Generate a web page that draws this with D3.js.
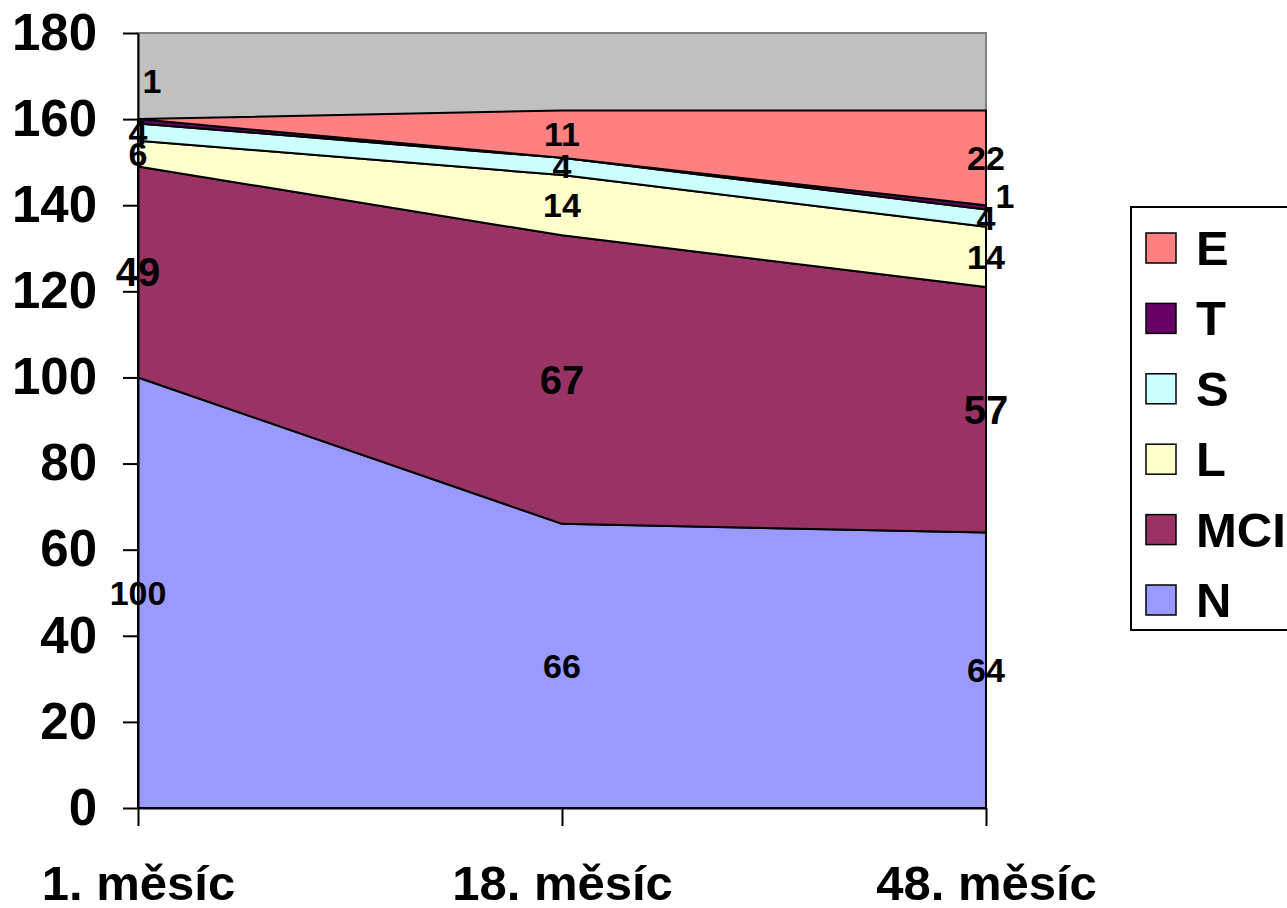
<!DOCTYPE html>
<html>
<head>
<meta charset="utf-8">
<script src="https://cdn.jsdelivr.net/npm/d3@7"></script>
<style>
  body { margin: 0; background: #fff; }
  text { font-family: "Liberation Sans", Arial, sans-serif; font-weight: bold; }
</style>
</head>
<body>
<div id="chart"></div>
<script>
// data
const categories = ["1. měsíc", "18. měsíc", "48. měsíc"];
const seriesKeys = ["N", "MCI", "L", "S", "T", "E"];
const valuesN   = [100, 66, 64];
const valuesMCI = [49, 67, 57];
const valuesL   = [6, 14, 14];
const valuesS   = [4, 4, 4];
const valuesT   = [1, 0, 1];
const valuesE   = [0, 11, 22];
const yTicks = [0, 20, 40, 60, 80, 100, 120, 140, 160, 180];

// styles
const colors = { N: "#9999FF", MCI: "#993366", L: "#FFFFCC", S: "#CCFFFF", T: "#660066", E: "#FF8080" };
const labelSize = { N: 34, MCI: 40, L: 34, S: 34, T: 34, E: 34 };
// the T labels were dragged away from their areas in the original
const labelShift = { T: [[14, -40], [0, 0], [19, -11]] };

const rows = categories.map((c, i) => ({
    cat: c, N: valuesN[i], MCI: valuesMCI[i], L: valuesL[i],
    S: valuesS[i], T: valuesT[i], E: valuesE[i]
}));

const W = 1287, H = 908;
const svg = d3.select("#chart").append("svg")
    .attr("width", W)
    .attr("height", H);

// scales
const x = d3.scalePoint().domain(categories).range([138, 986]);
const y = d3.scaleLinear().domain([0, 180]).range([808, 33]);

// plot background
svg.append("rect")
    .attr("x", x.range()[0])
    .attr("y", y(180))
    .attr("width", x.range()[1] - x.range()[0])
    .attr("height", y(0) - y(180))
    .attr("fill", "#C0C0C0")
    .attr("stroke", "#808080")
    .attr("stroke-width", 2);

// stacked areas
const stacked = d3.stack().keys(seriesKeys)(rows);
const area = d3.area()
    .x(d => x(d.data.cat))
    .y0(d => y(d[0]))
    .y1(d => y(d[1]));

svg.selectAll(".layer")
    .data(stacked)
    .enter().append("path")
    .attr("class", "layer")
    .attr("d", area)
    .attr("fill", d => colors[d.key])
    .attr("stroke", "#000")
    .attr("stroke-width", 2)
    .attr("stroke-linejoin", "round");

// axes
const yAxis = svg.append("g")
    .attr("transform", "translate(" + x.range()[0] + ",0)")
    .call(d3.axisLeft(y).tickValues(yTicks).tickSize(15).tickSizeOuter(0).tickPadding(26));
yAxis.selectAll("text").style("font-size", "51px").attr("fill", "#000");
yAxis.selectAll("line, path").attr("stroke", "#000").attr("stroke-width", 2);

const xAxis = svg.append("g")
    .attr("transform", "translate(0," + y(0) + ")")
    .call(d3.axisBottom(x).tickSize(18).tickSizeOuter(0).tickPadding(39));
xAxis.selectAll("text").style("font-size", "49px").attr("fill", "#000");
xAxis.selectAll("line, path").attr("stroke", "#000").attr("stroke-width", 2);

// data labels
stacked.forEach(layer => {
    layer.forEach((d, i) => {
        const v = d[1] - d[0];
        if (v <= 0) return;
        const shift = labelShift[layer.key] ? labelShift[layer.key][i] : [0, 0];
        svg.append("text")
            .attr("x", x(d.data.cat) + shift[0])
            .attr("y", y((d[0] + d[1]) / 2) + shift[1])
            .attr("text-anchor", "middle")
            .attr("dominant-baseline", "central")
            .style("font-size", labelSize[layer.key] + "px")
            .text(v);
    });
});

// legend
const legend = svg.append("g");
legend.append("rect")
    .attr("x", 1131)
    .attr("y", 207)
    .attr("width", 180)
    .attr("height", 423)
    .attr("fill", "#fff")
    .attr("stroke", "#000")
    .attr("stroke-width", 2);

const legendKeys = seriesKeys.slice().reverse();
legendKeys.forEach((k, i) => {
    const cy = 248 + i * 70.4;
    legend.append("rect")
        .attr("x", 1146)
        .attr("y", cy - 15)
        .attr("width", 30)
        .attr("height", 30)
        .attr("fill", colors[k])
        .attr("stroke", "#000")
        .attr("stroke-width", 1.5);
    legend.append("text")
        .attr("x", 1196)
        .attr("y", cy)
        .attr("dominant-baseline", "central")
        .style("font-size", "49px")
        .text(k);
});
</script>
</body>
</html>
